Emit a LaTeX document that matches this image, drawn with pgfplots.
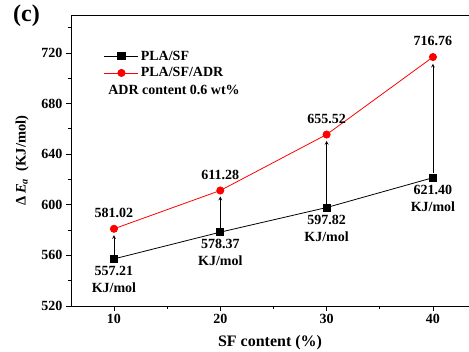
\documentclass[border=0pt]{standalone}
\usepackage{pgfplots}
\pgfplotsset{compat=1.18}
\usepackage{fontspec}
\setmainfont{Liberation Serif}
\begin{document}
\begin{tikzpicture}
\begin{axis}[
  scale only axis, width=398pt, height=291pt,
  xmin=5.96, xmax=43.39, ymin=520, ymax=750,
  axis lines*=left,
  axis line style={line width=0.9pt},
  xtick={10,20,30,40}, ytick={520,560,600,640,680,720},
  minor xtick={15,25,35}, minor ytick={540,580,620,660,700,740},
  tick align=outside, tick style={black, line width=0.8pt},
  major tick length=5pt, minor tick length=3pt,
  tick label style={font=\fontsize{14}{16}\selectfont\bfseries},
  /pgf/number format/assume math mode=true,
  xlabel={SF content (\%)},
  ylabel={Δ\,\textit{E}\textsubscript{\textit{a}}\enspace(KJ/mol)},
  xlabel style={font=\fontsize{16}{18}\selectfont\bfseries, yshift=-5pt},
  ylabel style={font=\fontsize{14.5}{16}\selectfont\bfseries, yshift=6pt},
  legend style={draw=none, fill=none, at={(rel axis cs:0.08,0.888)}, anchor=north west,
    font=\fontsize{14}{16}\selectfont\bfseries, row sep=2pt, inner sep=1pt},
  legend cell align=left,
  legend image code/.code={\draw[mark repeat=2,mark phase=2,#1] plot coordinates {(0pt,0pt) (17pt,0pt) (34pt,0pt)};},
  clip=false,
]
\addplot[black, line width=0.8pt, mark=square*, mark size=3.6pt, mark options={solid}] coordinates {(10,557.21) (20,578.37) (30,597.82) (40,621.40)};
\addlegendentry{PLA/SF}
\addplot[red, line width=0.8pt, mark=*, mark size=3.6pt] coordinates {(10,581.02) (20,611.28) (30,655.52) (40,716.76)};
\addlegendentry{PLA/SF/ADR}
\draw[line width=0.9pt] (rel axis cs:0,1) -- (rel axis cs:1,1);
\node[anchor=west, font=\fontsize{14}{16}\selectfont\bfseries, inner sep=0pt] at (axis cs:9.45,690.5) {ADR content 0.6 wt\%};
\foreach \x/\a/\b in {10/560.5/576, 20/581.5/606.5, 30/601/650.5, 40/625/711.5}{
  \edef\tmp{\noexpand\draw[-stealth, line width=0.7pt] (axis cs:\x,\a) -- (axis cs:\x,\b);}\tmp
}
\begin{scope}[every node/.style={font=\fontsize{14}{16}\selectfont\bfseries, align=center, inner sep=0pt}]
\node[anchor=south] at (axis cs:10,581.02) [yshift=11pt] {581.02};
\node[anchor=south] at (axis cs:20,611.28) [yshift=11pt] {611.28};
\node[anchor=south] at (axis cs:30,655.52) [yshift=11pt] {655.52};
\node[anchor=south] at (axis cs:40,716.76) [yshift=11pt] {716.76};
\node[anchor=north] at (axis cs:10,557.21) [yshift=-7pt] {557.21\\[1pt]KJ/mol};
\node[anchor=north] at (axis cs:20,578.37) [yshift=-7pt] {578.37\\[1pt]KJ/mol};
\node[anchor=north] at (axis cs:30,597.82) [yshift=-7pt] {597.82\\[1pt]KJ/mol};
\node[anchor=north] at (axis cs:40,621.40) [yshift=-7pt] {621.40\\[1pt]KJ/mol};
\end{scope}
\end{axis}
\node[anchor=north west, font=\fontsize{24}{26}\selectfont\bfseries, inner sep=0pt] at (-58pt,301pt) {(c)};
\pgfresetboundingbox
\path[use as bounding box] (-71pt,-46pt) rectangle (398pt,306pt);
\end{tikzpicture}
\end{document}
